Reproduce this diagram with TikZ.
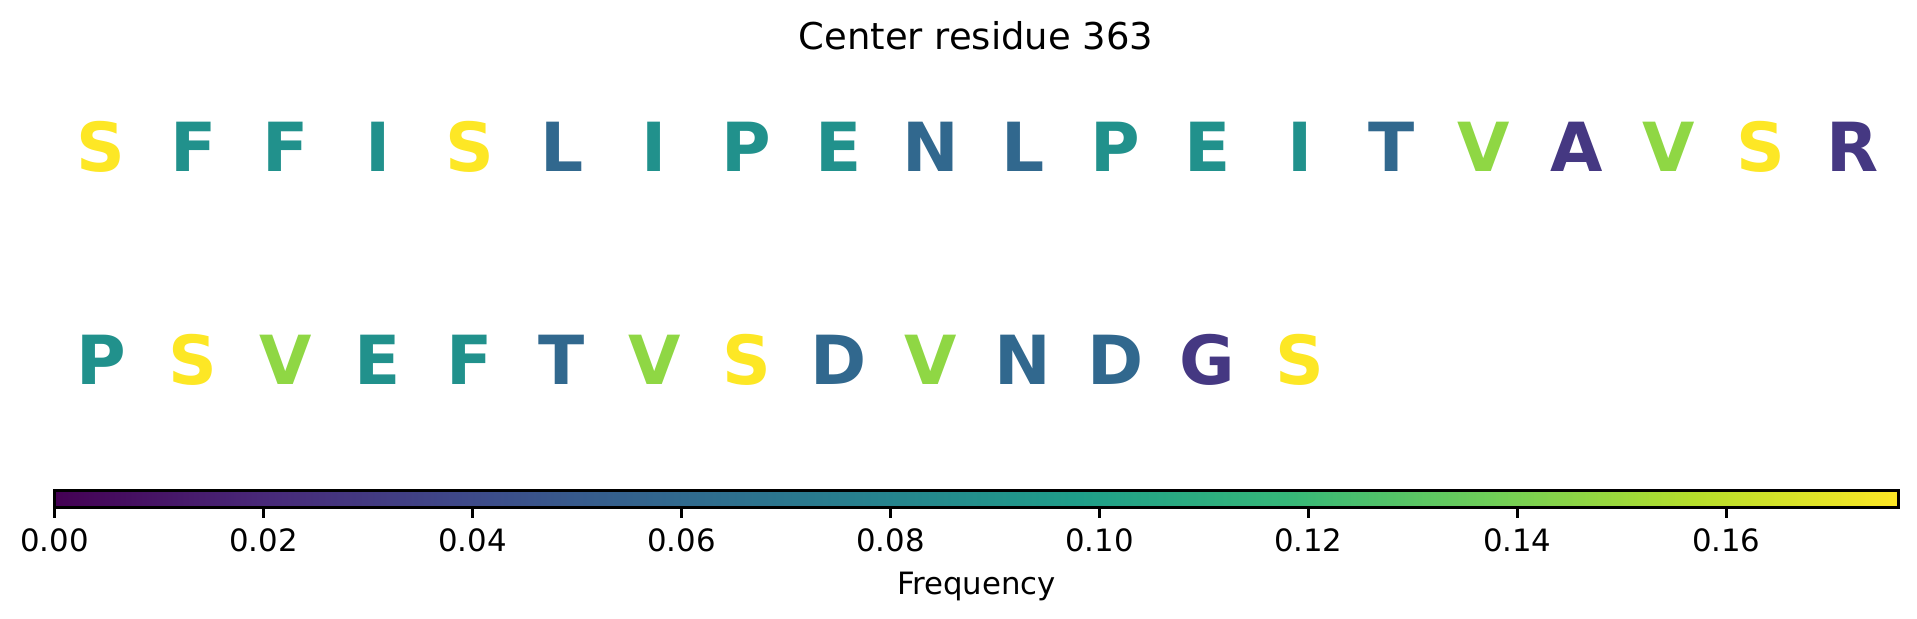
\documentclass[tikz,border=0pt]{standalone}
\usepackage{fontspec}
\setmainfont{DejaVu Sans}
\usepackage{tikz}

% viridis
\definecolor{vir0}{HTML}{440154}
\definecolor{vir1}{HTML}{482878}
\definecolor{vir2}{HTML}{3E4989}
\definecolor{vir3}{HTML}{31688E}
\definecolor{vir4}{HTML}{26828E}
\definecolor{vir5}{HTML}{1F9E89}
\definecolor{vir6}{HTML}{35B779}
\definecolor{vir7}{HTML}{6ECE58}
\definecolor{vir8}{HTML}{B5DE2B}
\definecolor{vir9}{HTML}{FDE725}
\pgfdeclarehorizontalshading{viridis}{100bp}{color(0bp)=(vir0); color(25bp)=(vir0);
  color(30.556bp)=(vir1); color(36.111bp)=(vir2); color(41.667bp)=(vir3);
  color(47.222bp)=(vir4); color(52.778bp)=(vir5); color(58.333bp)=(vir6);
  color(63.889bp)=(vir7); color(69.444bp)=(vir8); color(75bp)=(vir9); color(100bp)=(vir9)}

% letter colours by count
\definecolor{freqone}{HTML}{453882}
\definecolor{freqtwo}{HTML}{31688E}
\definecolor{freqthree}{HTML}{21918C}
\definecolor{freqfive}{HTML}{8FD744}
\definecolor{freqsix}{HTML}{FDE725}

\tikzset{
  res/.style={anchor=base, inner sep=0pt, font=\fontsize{22}{26}\selectfont\bfseries},
  ticklabel/.style={anchor=base, inner sep=0pt, font=\fontsize{10}{12}\selectfont},
  tickmark/.style={line width=0.8pt}
}

\begin{document}
\begin{tikzpicture}[x=0.325pt, y=-0.325pt]
\useasboundingbox (0,0) rectangle (1917,619);

\node[anchor=base, inner sep=0pt, font=\fontsize{12}{14}\selectfont] at (976,50) (title) {Center residue 363};

% first row
\node[res, freqsix] at (101,172) (a1) {S};
\node[res, freqthree] at (193.2,172) (a2) {F};
\node[res, freqthree] at (285.4,172) (a3) {F};
\node[res, freqthree] at (377.6,172) (a4) {I};
\node[res, freqsix] at (469.8,172) (a5) {S};
\node[res, freqtwo] at (562,172) (a6) {L};
\node[res, freqthree] at (654.2,172) (a7) {I};
\node[res, freqthree] at (746.4,172) (a8) {P};
\node[res, freqthree] at (838.6,172) (a9) {E};
\node[res, freqtwo] at (930.8,172) (a10) {N};
\node[res, freqtwo] at (1023,172) (a11) {L};
\node[res, freqthree] at (1115.2,172) (a12) {P};
\node[res, freqthree] at (1207.4,172) (a13) {E};
\node[res, freqthree] at (1299.6,172) (a14) {I};
\node[res, freqtwo] at (1391.8,172) (a15) {T};
\node[res, freqfive] at (1484,172) (a16) {V};
\node[res, freqone] at (1576.2,172) (a17) {A};
\node[res, freqfive] at (1668.4,172) (a18) {V};
\node[res, freqsix] at (1760.6,172) (a19) {S};
\node[res, freqone] at (1852.8,172) (a20) {R};

% second row
\node[res, freqthree] at (101,385) (b1) {P};
\node[res, freqsix] at (193.2,385) (b2) {S};
\node[res, freqfive] at (285.4,385) (b3) {V};
\node[res, freqthree] at (377.6,385) (b4) {E};
\node[res, freqthree] at (469.8,385) (b5) {F};
\node[res, freqtwo] at (562,385) (b6) {T};
\node[res, freqfive] at (654.2,385) (b7) {V};
\node[res, freqsix] at (746.4,385) (b8) {S};
\node[res, freqtwo] at (838.6,385) (b9) {D};
\node[res, freqfive] at (930.8,385) (b10) {V};
\node[res, freqtwo] at (1023,385) (b11) {N};
\node[res, freqtwo] at (1115.2,385) (b12) {D};
\node[res, freqone] at (1207.4,385) (b13) {G};
\node[res, freqsix] at (1299.6,385) (b14) {S};

% colour bar
\path[shading=viridis, draw=black, line width=0.8pt] (54.5,490.7) rectangle (1898.4,507.7);

\draw[tickmark] (54.5,507.7) -- +(0,10.7);
\draw[tickmark] (263.5,507.7) -- +(0,10.7);
\draw[tickmark] (472.4,507.7) -- +(0,10.7);
\draw[tickmark] (681.4,507.7) -- +(0,10.7);
\draw[tickmark] (890.4,507.7) -- +(0,10.7);
\draw[tickmark] (1099.4,507.7) -- +(0,10.7);
\draw[tickmark] (1308.3,507.7) -- +(0,10.7);
\draw[tickmark] (1517.3,507.7) -- +(0,10.7);
\draw[tickmark] (1726.3,507.7) -- +(0,10.7);

\node[ticklabel] at (54.5,551.7) (t0) {0.00};
\node[ticklabel] at (263.5,551.7) (t1) {0.02};
\node[ticklabel] at (472.4,551.7) (t2) {0.04};
\node[ticklabel] at (681.4,551.7) (t3) {0.06};
\node[ticklabel] at (890.4,551.7) (t4) {0.08};
\node[ticklabel] at (1099.4,551.7) (t5) {0.10};
\node[ticklabel] at (1308.3,551.7) (t6) {0.12};
\node[ticklabel] at (1517.3,551.7) (t7) {0.14};
\node[ticklabel] at (1726.3,551.7) (t8) {0.16};

\node[ticklabel] at (976.5,594) (label) {Frequency};

\end{tikzpicture}
\end{document}
